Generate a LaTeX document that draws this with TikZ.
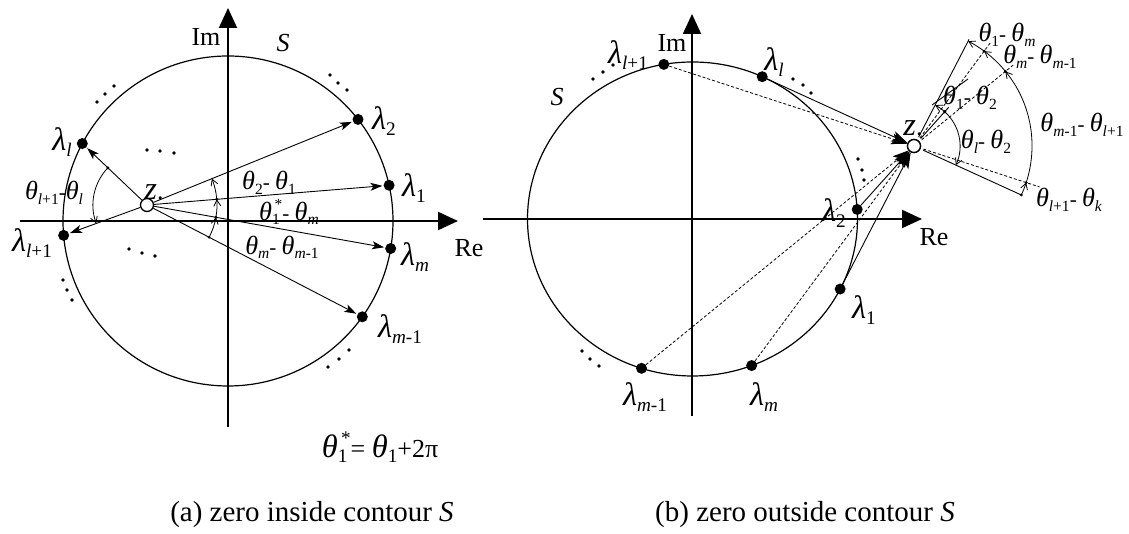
\documentclass[tikz,border=0pt]{standalone}
\usepackage{fontspec}
\usepackage{graphicx}
\setmainfont{Liberation Serif}
\usetikzlibrary{calc,arrows.meta}
\newcommand\gk[1]{\scalebox{1.25}{\textit{#1}}}
\newcommand\sbs[1]{\raisebox{-0.45ex}{\scalebox{0.74}{#1}}}
\newcommand\sps[1]{\raisebox{1.1ex}{\scalebox{0.74}{#1}}}
\newcommand\thx[1]{\gk{θ}\sbs{#1}}
\newcommand\lmb[1]{\gk{λ}\sbs{#1}}
\newcommand\ivar[1]{\textit{#1}}
\newcommand\arcseg[6]{%
  \draw[#5] let \p1=($(#2)-(#1)$), \p2=($(#3)-(#1)$),
    \n1={atan2(\y1,\x1)}, \n2={atan2(\y2,\x2)+#6} in
    ($(#1)+(\n1:#4)$) arc[start angle=\n1, end angle=\n2, radius=#4];
  \fill let \p1=($(#2)-(#1)$), \n1={atan2(\y1,\x1)} in
    ($(#1)+(\n1:#4)$) circle[radius=1.6pt];}
\tikzset{
  axis/.style={line width=2pt,-{Triangle[length=20pt,width=18pt]}},
  contour/.style={line width=1.2pt},
  ray/.style={line width=0.9pt,-{Stealth[length=12pt,width=8pt,inset=3pt]},shorten >=1pt},
  bigray/.style={line width=0.9pt,-{Stealth[length=16pt,width=11pt,inset=4pt]}},
  dray/.style={line width=0.8pt,dash pattern=on 3pt off 2pt},
  ext/.style={line width=0.9pt},
  angarr/.style={line width=0.8pt,-{Straight Barb[length=6pt,width=7pt]}},
  lam/.style={circle,fill,inner sep=0pt,minimum size=11pt},
  zc/.style={circle,draw,line width=1.3pt,fill=white,inner sep=0pt,minimum size=13pt},
  lbl/.style={inner sep=0pt,font=\fontsize{26}{30}\selectfont},
  tl/.style={inner sep=0pt,font=\fontsize{21}{25}\selectfont},
  captxt/.style={inner sep=0pt,font=\fontsize{29}{33}\selectfont},
  tdot/.style={circle,fill,inner sep=0pt,minimum size=3.6pt},
}
\begin{document}
\begin{tikzpicture}[x=1pt,y=1pt]
\path[use as bounding box] (0,0) rectangle (1129,534);

% ================= (a) =================
\coordinate (O1) at (228,313);
\draw[contour] (O1) circle[radius=165];
\coordinate (reA0) at (20,313);  \coordinate (reA1) at (458,313);
\coordinate (imA0) at (228,107); \coordinate (imA1) at (228,526);
\draw[axis] (reA0) -- (reA1);
\draw[axis] (imA0) -- (imA1);

\node[lam] (a2)  at ($(O1)+(38:165)$) {};
\node[lam] (a1)  at ($(O1)+(12.5:165)$) {};
\node[lam] (am)  at ($(O1)+(-9.6:165)$) {};
\node[lam] (am1) at ($(O1)+(-35.5:165)$) {};
\node[lam] (al)  at ($(O1)+(152:165)$) {};
\node[lam] (al1) at ($(O1)+(185:165)$) {};
\node[zc] (z1) at (147,329) {};

\foreach \t in {a2,a1,am,am1,al,al1} \draw[ray] (z1) -- (\t);

\arcseg{z1}{am1}{am}{70}{angarr}{0}
\arcseg{z1}{am}{a1}{70}{angarr}{0}
\arcseg{z1}{a1}{a2}{70}{angarr}{0}
\arcseg{z1}{al}{al1}{54}{angarr}{360}

\node[lbl] (tIm1) at (206,497) {Im};
\node[lbl] (tS1) at (283,491) {\textit{S}};
\node[lbl] (tRe1) at (469,286) {Re};
\node[lbl] (la2) at (384,413) {\lmb{2}};
\node[lbl] (la1) at (414,346) {\lmb{1}};
\node[lbl] (lam_) at (415,277) {\lmb{\ivar{m}}};
\node[lbl] (lam1) at (400,205) {\lmb{\ivar{m}-1}};
\node[lbl] (lal) at (62,392) {\lmb{\ivar{l}}};
\node[lbl] (lal1) at (32,291) {\lmb{\ivar{l}+1}};
\node[lbl] (zt1) at (154,342) {\gk{z}.};
\node[tl] (ta1) at (269,351) {\thx{2}- \thx{1}};
\node[tl] (ta2) at (289,322) {\gk{θ}\rlap{\sbs{1}}\sps{\,*}- \thx{\ivar{m}}};
\node[tl] (ta3) at (282,287) {\thx{\ivar{m}}- \thx{\ivar{m}-1}};
\node[tl] (ta4) at (54,341) {\thx{\ivar{l}+1}-\thx{\ivar{l}}};
\node[lbl] (form) at (380,87) {\gk{θ}\rlap{\sbs{1}}\sps{\,*}= \thx{1}+2π};
\node[captxt] (capa) at (312,19) {(a) zero inside contour \textit{S}};

\foreach \n/\x/\y in {p1/97/432,p2/105/440,p3/114/448,
  p4/330/459,p5/338/451,p6/347/444,
  p7/147/384,p8/160/383,p9/174/381,
  p10/129/285,p11/142/281,p12/155/278,
  p13/63/254,p14/67/244,p15/72/234,
  p16/328/167,p17/339/175,p18/349/184}
  \node[tdot] (\n) at (\x,\y) {};

% ================= (b) =================
\coordinate (O2) at (692.5,315);
\draw[contour] (O2) ellipse[x radius=165, y radius=157];
\coordinate (reB0) at (483,315);  \coordinate (reB1) at (922,315);
\coordinate (imB0) at (692,118);  \coordinate (imB1) at (692,520);
\draw[axis] (reB0) -- (reB1);
\draw[axis] (imB0) -- (imB1);

\node[lam] (bl1) at ($(O2)+({165*cos(100)},{157*sin(100)})$) {};
\node[lam] (bl)  at ($(O2)+({165*cos(65)},{157*sin(65)})$) {};
\node[lam] (b2)  at ($(O2)+({165*cos(3.5)},{157*sin(3.5)})$) {};
\node[lam] (b1)  at ($(O2)+({165*cos(-26.5)},{157*sin(-26.5)})$) {};
\node[lam] (bm)  at ($(O2)+({165*cos(-69)},{157*sin(-69)})$) {};
\node[lam] (bm1) at ($(O2)+({165*cos(-108)},{157*sin(-108)})$) {};
\coordinate (zz) at (914,388);

% extension directions
\coordinate (e1)  at ($(zz)!-1!(b1)$);
\coordinate (e2)  at ($(zz)!-1!(b2)$);
\coordinate (em)  at ($(zz)!-1!(bm)$);
\coordinate (em1) at ($(zz)!-1!(bm1)$);
\coordinate (el)  at ($(zz)!-1!(bl)$);
\coordinate (el1) at ($(zz)!-1!(bl1)$);

\draw[ext] ($(zz)!10pt!(e1)$) -- ($(zz)!120pt!(e1)$);
\draw[ext] ($(zz)!10pt!(e2)$) -- ($(zz)!52pt!(e2)$);
\draw[ext] ($(zz)!10pt!(el)$) -- ($(zz)!118pt!(el)$);
\draw[dray] ($(zz)!10pt!(em)$) -- ($(zz)!128pt!(em)$);
\draw[dray] ($(zz)!10pt!(em1)$) -- ($(zz)!128pt!(em1)$);
\draw[dray] ($(zz)!10pt!(el1)$) -- ($(zz)!132pt!(el1)$);
\coordinate (k0) at (932,429); \coordinate (k1) at (968,455);
\draw[ext] (k0) -- (k1);

\arcseg{zz}{el}{el1}{118}{angarr}{0}
\arcseg{zz}{el1}{em1}{118}{angarr}{0}
\arcseg{zz}{em1}{em}{118}{angarr}{0}
\arcseg{zz}{em}{e1}{118}{angarr}{0}
\arcseg{zz}{e2}{e1}{46}{angarr}{0}
\arcseg{zz}{e2}{el}{46}{angarr}{0}

\node[zc] (z2) at (zz) {};
\draw[bigray] (bl) -- (z2);
\draw[bigray] (b2) -- (z2);
\draw[bigray] (b1) -- (z2);
\draw[bigray,dray] (bl1) -- (z2);
\draw[bigray,dray] (bm1) -- (z2);
\draw[bigray,dray] (bm) -- (z2);
\node[zc] (z2b) at (zz) {};

\node[lbl] (tIm2) at (672,491) {Im};
\node[lbl] (tS2) at (557,437) {\textit{S}};
\node[lbl] (tRe2) at (934,297) {Re};
\node[lbl] (lbl1) at (628,479) {\lmb{\ivar{l}+1}};
\node[lbl] (lbl_) at (774,472) {\lmb{\ivar{l}}};
\node[lbl] (lb2) at (834,321) {\lmb{2}};
\node[lbl] (lb1) at (864,224) {\lmb{1}};
\node[lbl] (lbm1) at (645,137) {\lmb{\ivar{m}-1}};
\node[lbl] (lbm) at (764,137) {\lmb{\ivar{m}}};
\node[lbl] (zt2) at (913,406) {\gk{z}.};
\node[tl] (tb1) at (1007,499) {\thx{1}- \thx{\ivar{m}}};
\node[tl] (tb2) at (1040,477) {\thx{\ivar{m}}- \thx{\ivar{m}-1}};
\node[tl] (tb3) at (970,436) {\thx{1}- \thx{2}};
\node[tl] (tb4) at (986,392) {\thx{\ivar{l}}- \thx{2}};
\node[tl] (tb5) at (1082,409) {\thx{\ivar{m}-1}- \thx{\ivar{l}+1}};
\node[tl] (tb6) at (1069,334) {\thx{\ivar{l}+1}- \thx{\ivar{k}}};
\node[captxt] (capb) at (805,19) {(b) zero outside contour \textit{S}};

\foreach \n/\x/\y in {q1/593/455,q2/603/462,q3/613/469,
  q4/793/455,q5/803/449,q6/811/441,
  q7/858/375,q8/862/364,q9/864/354,
  q10/582/183,q11/590/175,q12/599/168}
  \node[tdot] (\n) at (\x,\y) {};
\end{tikzpicture}
\end{document}
